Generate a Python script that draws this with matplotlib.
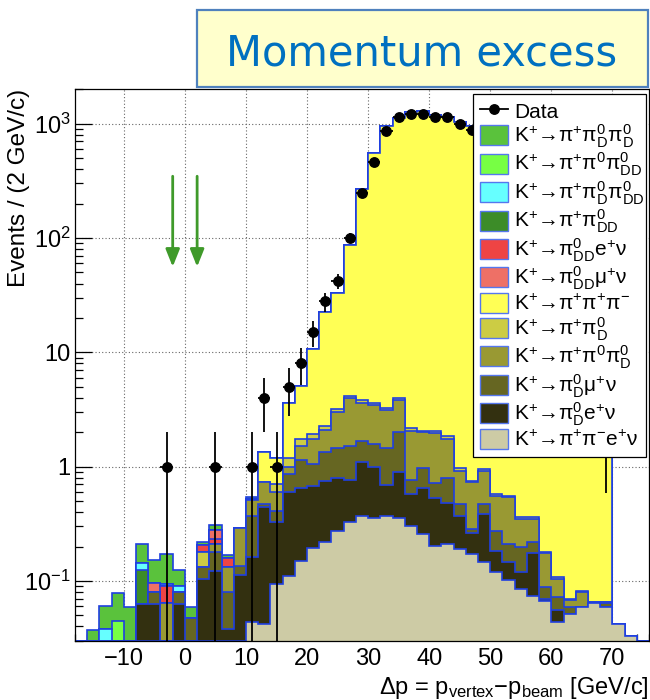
import numpy as np
import matplotlib
matplotlib.use('Agg')
import matplotlib.pyplot as plt
from matplotlib.patches import Patch, Rectangle
from matplotlib.lines import Line2D
import matplotlib.ticker as mticker

plt.rcParams['font.family'] = ['Liberation Sans', 'DejaVu Sans']
plt.rcParams['mathtext.fontset'] = 'custom'
plt.rcParams['mathtext.rm'] = 'Liberation Sans'
plt.rcParams['mathtext.it'] = 'Liberation Sans:italic'
plt.rcParams['mathtext.bf'] = 'Liberation Sans:bold'
plt.rcParams['mathtext.sf'] = 'Liberation Sans'
plt.rcParams['mathtext.default'] = 'regular'

# ---------------- data ----------------
bin_edges = np.arange(-18, 78, 2)          # 47 bins of 2 GeV/c, centres -17 ... 75

# MC components (bottom of stack first)
pipienu = [0, 0, 0, 0, 0, 0, 0, 0, 0, 0, 0, 0,
           0, 0, .044, .042, .094, .111, .150, .193, .218, .272, .330, .372,
           .355, .372, .355, .304, .257, .201, .211, .190, .172, .146, .119, .101,
           .085, .074, .067, .044, .0515, .059, .064, .059, .042, .033, 0]
pi0D_enu = [0, 0, 0, 0, 0, .0625, .0625, 0, .0625, 0, .103, .123,
            .038, .113, .117, .398, .236, .483, .495, .487, .533, .522, .438, .718,
            .641, .317, .545, .271, .388, .326, .269, .180, .088, .239, .065, .045,
            .034, .103, .003, .012, 0, 0, 0, 0, 0, 0, 0]
pi0D_munu = [0, 0, 0, 0, 0, 0, .017, 0, .018, .0475, .029, .057,
             .0427, .0233, .211, .030, .080, .266, .505, .370, .600, .656, .752, .570,
             .574, .781, 1.09, .195, .335, .193, .310, .100, .024, .085, .091, .064,
             .078, .040, .018, .016, .0075, 0, 0, .005, 0, 0, 0]
pipi0pi0D = [0, 0, 0, 0, 0, 0, 0, .0638, 0, 0, 0, .030,
             .0508, .152, .138, .260, .184, .140, .350, .700, .750, 1.55, 2.48, 1.94,
             1.88, 1.63, 1.86, 1.28, 1.02, 1.23, .960, .450, .446, .450, .275, .330,
             .153, .133, .087, .033, .009, .021, .002, .002, 0, 0, 0]
pipi0D = [0, 0, 0, 0, 0, 0, 0, 0, 0, 0, .0485, 0,
          0, 0, 0, 0, .106, .200, .240, .170, .170, .170, .150, .210,
          .140, .150, .170, .120, .060, .110, .090, .060, .020, .030, .025, .016,
          .010, .010, .005, .003, .002, .002, 0, 0, 0, 0, 0]
k3pi = [0, 0, 0, 0, 0, 0, 0, 0, 0, 0, 0, 0,
        0, 0, 0, .60, .50, 2.4, 3.36, 8.88, 20.3, 30.0, 82.0, 265,
        551, 945, 1117, 1254, 1279, 1196, 1142, 1025, 947, 800, 650, 480,
        330, 210, 120, 65, 30, 13, 5, 2.5, 0, 0, 0]
pi0DD_enu = [0, 0, 0, 0, 0, 0, 0, .026, 0, 0, .024, .023,
             .0265, 0, .015, 0, 0, 0, 0, 0, 0, 0, 0, 0,
             0, 0, 0, 0, 0, 0, 0, 0, 0, 0, 0, 0,
             0, 0, 0, 0, 0, 0, 0, 0, 0, 0, 0]
pi0DD_munu = [0, 0, 0, 0, 0, 0, .0165, 0, 0, 0, 0, .047,
              0, 0, 0, 0, 0, 0, 0, 0, 0, 0, 0, 0,
              0, 0, 0, 0, 0, 0, 0, 0, 0, 0, 0, 0,
              0, 0, 0, 0, 0, 0, 0, 0, 0, 0, 0]
pipi0DD = [0, 0, 0, 0, 0, .063, 0, 0, 0, 0, 0, 0,
           0, 0, 0, 0, 0, 0, 0, 0, 0, 0, 0, 0,
           0, 0, 0, 0, 0, 0, 0, 0, 0, 0, 0, 0,
           0, 0, 0, 0, 0, 0, 0, 0, 0, 0, 0]
pipi0Dpi0DD = [0, 0, .038, 0, 0, .018, 0, .0044, .0103, 0, 0, 0,
               0, 0, 0, 0, 0, 0, 0, 0, 0, 0, 0, 0,
               0, 0, 0, 0, 0, 0, 0, 0, 0, 0, 0, 0,
               0, 0, 0, 0, 0, 0, 0, 0, 0, 0, 0]
pipi0pi0DD = [0, 0, 0, .045, 0, 0, 0, 0, 0, 0, 0, 0,
              0, 0, 0, 0, 0, 0, 0, 0, 0, 0, 0, 0,
              0, 0, 0, 0, 0, 0, 0, 0, 0, 0, 0, 0,
              0, 0, 0, 0, 0, 0, 0, 0, 0, 0, 0]
pipi0Dpi0D = [0, .037, .022, .0335, .059, .066, .0574, .078, .0346, .0114, .014, .028,
              .0106, 0, .015, 0, 0, 0, 0, 0, 0, 0, 0, 0,
              0, 0, 0, 0, 0, 0, 0, 0, 0, 0, 0, 0,
              0, 0, 0, 0, 0, 0, 0, 0, 0, 0, 0]

data_counts = [0, 0, 0, 0, 0, 0, 0, 1, 0, 0, 0, 1,
               0, 0, 1, 4, 1, 5, 8, 15, 28, 42, 101, 250,
               466, 863, 1144, 1205, 1215, 1144, 1144, 1000, 886, 780, 640, 470,
               320, 205, 118, 62, 28, 12, 5, 2, 0, 0, 0]

arrow_x = [-2, 2]
arrow_from = 347
arrow_to = 56

stack = [pipienu, pi0D_enu, pi0D_munu, pipi0pi0D, pipi0D, k3pi,
         pi0DD_enu, pi0DD_munu, pipi0DD, pipi0Dpi0DD, pipi0pi0DD, pipi0Dpi0D]
colors = ['#cdcba5', '#333010', '#666622', '#999933', '#cccc44', '#ffff55',
          '#ee4444', '#ee7066', '#3c8c28', '#66ffff', '#77ff44', '#5ac23c']
labels = [r'K$^{+}$→$\pi^{+}\pi^{-}$e$^{+}\nu$',
          r'K$^{+}$→$\pi^{0}_{D}$e$^{+}\nu$',
          r'K$^{+}$→$\pi^{0}_{D}\mu^{+}\nu$',
          r'K$^{+}$→$\pi^{+}\pi^{0}\pi^{0}_{D}$',
          r'K$^{+}$→$\pi^{+}\pi^{0}_{D}$',
          r'K$^{+}$→$\pi^{+}\pi^{+}\pi^{-}$',
          r'K$^{+}$→$\pi^{0}_{DD}$e$^{+}\nu$',
          r'K$^{+}$→$\pi^{0}_{DD}\mu^{+}\nu$',
          r'K$^{+}$→$\pi^{+}\pi^{0}_{DD}$',
          r'K$^{+}$→$\pi^{+}\pi^{0}_{D}\pi^{0}_{DD}$',
          r'K$^{+}$→$\pi^{+}\pi^{0}\pi^{0}_{DD}$',
          r'K$^{+}$→$\pi^{+}\pi^{0}_{D}\pi^{0}_{D}$']
legend_order = [11, 10, 9, 8, 6, 7, 5, 4, 3, 2, 1, 0]

# ---------------- figure ----------------
W, H = 650, 700
fig = plt.figure(figsize=(W / 100, H / 100), dpi=100)
ax = fig.add_axes([75 / W, 1 - 640.7 / H, 574 / W, 551.4 / H])

ymin, ymax = 0.03, 2000
ax.set_yscale('log')
ax.set_xlim(-18, 76)
ax.set_ylim(ymin, ymax)

blue = '#1f3fe0'
cum = np.cumsum(np.array(stack, dtype=float), axis=0)
for k in range(len(stack) - 1, -1, -1):
    vals = np.maximum(cum[k], ymin)
    ax.stairs(vals, bin_edges, baseline=ymin, fill=True, color=colors[k], lw=0, zorder=2)
    ax.stairs(vals, bin_edges, baseline=ymin, fill=False, color=blue, lw=1.2, zorder=2)

centers = 0.5 * (bin_edges[:-1] + bin_edges[1:])
n = np.array(data_counts, dtype=float)
m = n > 0
ax.errorbar(centers[m], n[m], yerr=np.sqrt(n[m]), xerr=1.0, fmt='o', color='black',
            ms=6.8, elinewidth=1.3, capsize=0, zorder=4)

for xa in arrow_x:
    ax.annotate('', xy=(xa, arrow_to), xytext=(xa, arrow_from),
                arrowprops=dict(arrowstyle='-|>,head_length=0.7,head_width=0.28',
                                color='#3f9a2a', lw=2.0, mutation_scale=15,
                                shrinkA=0, shrinkB=0), zorder=4)

# axes style
ax.set_axisbelow(True)
ax.grid(True, which='major', ls=(0, (1, 2)), color='#666666', lw=0.8)
ax.xaxis.set_major_locator(mticker.MultipleLocator(10))
ax.xaxis.set_minor_locator(mticker.MultipleLocator(2))
ax.yaxis.set_major_locator(mticker.FixedLocator([0.1, 1, 10, 100, 1000]))
ax.yaxis.set_minor_locator(mticker.LogLocator(base=10, subs=np.arange(2, 10), numticks=20))
ax.yaxis.set_minor_formatter(mticker.NullFormatter())

def yfmt(v, pos):
    e = int(round(np.log10(v)))
    if e == 0:
        return '1'
    if e == 1:
        return '10'
    return r'$10^{%d}$' % e
ax.yaxis.set_major_formatter(mticker.FuncFormatter(yfmt))

ax.tick_params(which='both', direction='in', top=False, right=False, labelsize=17)
ax.tick_params(axis='y', which='major', length=12, width=0.9, pad=3)
ax.tick_params(axis='y', which='minor', length=6, width=0.9)
ax.tick_params(axis='x', which='major', length=11, width=0.9, pad=5)
ax.tick_params(axis='x', which='minor', length=5, width=0.9)
for sp in ax.spines.values():
    sp.set_linewidth(0.9)

ax.set_ylabel('Events / (2 GeV/c)', fontsize=17.5, loc='top')
ax.yaxis.set_label_coords(-0.078, 1.0)
ax.set_xlabel(r'$\Delta$p = p$_{vertex}$$-$p$_{beam}$ [GeV/c]', fontsize=17, loc='right')
ax.xaxis.set_label_coords(1.0, -0.062)

# legend
handles = [Line2D([], [], color='black', marker='o', ms=6.8, lw=1.3)]
leg_labels = ['Data']
for k in legend_order:
    handles.append(Patch(facecolor=colors[k], edgecolor='#5577ee', lw=1.0))
    leg_labels.append(labels[k])
leg = ax.legend(handles, leg_labels, loc='upper left',
                bbox_to_anchor=(0.694, 0.344, 0.301, 0.647), mode='expand',
                fontsize=15, frameon=True, fancybox=False, framealpha=1,
                edgecolor='black', handlelength=1.35, handleheight=1.1,
                handletextpad=0.3, labelspacing=0.05, borderpad=0.3,
                borderaxespad=0)
leg.get_frame().set_linewidth(0.9)
leg.set_zorder(6)

# title box
fig.patches.append(Rectangle((197 / W, 1 - 87 / H), 451 / W, 77 / H,
                             transform=fig.transFigure, facecolor='#ffffcc',
                             edgecolor='#4f81bd', lw=1.6, zorder=5))
fig.text(422 / W, 1 - 65 / H, 'Momentum excess', ha='center', va='baseline',
         fontsize=30, color='#0070c0', family='DejaVu Sans', zorder=6)

fig.savefig('out.png', dpi=100)
